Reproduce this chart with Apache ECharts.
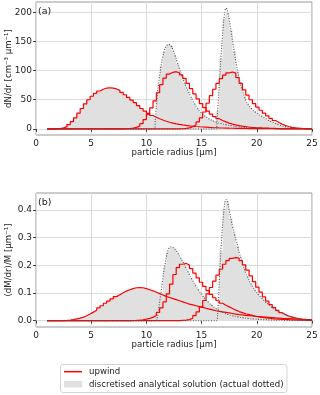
<!DOCTYPE html>
<html>
<head>
<meta charset="utf-8">
<script src="https://cdn.jsdelivr.net/npm/echarts@6/dist/echarts.min.js"></script>
<style>
  html, body { margin: 0; padding: 0; background: #fff; }
  #chart { width: 320px; height: 395px; }
</style>
</head>
<body>
<div id="chart"></div>
<script>
// bins: 0.3 um wide, from r = 1 to r = 25
const firstEdge = 1.0
const lastEdge = 25.0
const binWidth = 0.3

const xTicks = [0, 5, 10, 15, 20, 25]
const aTicks = [0, 50, 100, 150, 200]
const bTicks = [0, 0.1, 0.2, 0.3, 0.4]

// ---- panel (a): dN/dr ----
// initial distribution (upwind == discretised at this time)
const a1Start = 1.0
const a1 = [
  0, 0.05, 0.2, 0.7, 1.8, 4, 7.5, 12.5, 19, 27,
  35, 43, 50, 56, 61, 65, 68, 70, 70.5, 70,
  68.5, 66, 62.5, 58.5, 54, 49.5, 45, 40, 35, 30.5,
  26.5, 23, 20, 17.5, 15.2, 13.2, 11.5, 10, 8.8, 7.7,
  6.8, 6.0, 5.3, 4.7, 4.15, 3.7, 3.3, 2.95, 2.6, 2.3,
  2.05, 1.8, 1.6, 1.42, 1.27, 1.13, 1.0, 0.9, 0.8, 0.71,
  0.63, 0.56, 0.5, 0.44, 0.39, 0.35, 0.31, 0.28, 0.25, 0.22,
  0.2, 0.18, 0.16, 0.14, 0.13, 0.12, 0.1, 0.09, 0.08, 0.07
]
const a2UpStart = 7.9
const a2Up = [
  0.3, 0.7, 1.4, 2.6, 4.8, 9, 16, 25, 36, 48,
  62, 76, 87, 94, 97, 98, 96, 92.5, 86.5, 78,
  69, 60, 51.5, 43.5, 36.5, 30.5, 25.5, 21, 17.5, 14.5,
  12, 10, 8.3, 6.9, 5.7, 4.8, 4.0, 3.3, 2.8, 2.35,
  2.0, 1.7, 1.45, 1.22, 1.05, 0.9, 0.77, 0.66, 0.57, 0.49,
  0.42, 0.37, 0.32, 0.28, 0.24, 0.21, 0.18
]
const a3UpStart = 13.0
const a3Up = [
  0.3, 0.8, 1.8, 3.8, 7, 12, 19, 29, 44, 57,
  68, 78, 86, 92, 96, 97.5, 95.5, 88, 78, 67,
  58, 50, 43.5, 37.5, 32, 27, 22.5, 18.2, 14.4, 11,
  8.2, 5.9, 4.1, 2.8, 1.9, 1.3, 0.85, 0.55, 0.37, 0.25
]
const a2DiscStart = 10.6
const a2Disc = [
  9, 66, 108, 134, 144, 142, 128, 111, 94, 80,
  66, 54, 43, 35, 28, 22.5, 18.5, 15, 12.8, 10.8,
  9.2, 7.9, 6.7, 5.7, 4.8, 4.1, 3.5, 3.0, 2.6, 2.2,
  1.9, 1.6, 1.4, 1.2, 1.0, 0.9, 0.8, 0.7, 0.6, 0.52,
  0.46, 0.4, 0.35, 0.3, 0.26, 0.23, 0.2, 0.17
]
const a3DiscStart = 16.3
const a3Disc = [
  31, 121, 190, 200, 170, 133, 100, 75, 57, 44,
  36, 30.5, 26.5, 22.5, 19, 15.5, 12.7, 10.2, 8, 6.1,
  4.6, 3.5, 2.5, 1.8, 1.3, 0.95, 0.7, 0.5, 0.4
]
// actual (continuous) analytical solutions
const a2ExactR = [1, 10.75, 10.8, 10.9, 11.0, 11.1, 11.25, 11.4, 11.55, 11.7, 11.85, 12.0, 12.15, 12.3, 12.5, 12.7, 12.9, 13.1, 13.3, 13.5, 13.7, 13.9, 14.1, 14.3, 14.5, 14.75, 15.0, 15.25, 15.5, 15.75, 16.0, 16.5, 17, 17.5, 18, 18.5, 19, 19.5, 20, 21, 22, 23, 24, 25]
const a2Exact = [0, 0, 14, 38, 60, 78, 98, 116, 129, 138, 143, 145, 144, 140, 131, 120, 108, 97, 87, 77, 68, 60, 52, 45, 39, 32, 27, 22.5, 19, 16.3, 14, 10.5, 8, 6, 4.5, 3.4, 2.6, 2.0, 1.5, 0.9, 0.55, 0.35, 0.22, 0.14]
const a3ExactR = [1, 16.35, 16.4, 16.55, 16.7, 16.85, 17.0, 17.1, 17.2, 17.3, 17.45, 17.6, 17.75, 17.9, 18.05, 18.2, 18.35, 18.5, 18.65, 18.8, 18.95, 19.1, 19.25, 19.4, 19.7, 20.0, 20.3, 20.6, 20.9, 21.2, 21.5, 21.8, 22.1, 22.4, 22.8, 23.2, 23.6, 24, 24.5, 25]
const a3Exact = [0, 0, 14, 60, 107, 150, 185, 200, 207, 205, 193, 176, 158, 139, 121, 105, 91, 79, 68, 59, 51, 45, 40.5, 37, 31, 27, 23.5, 20, 16.5, 13.5, 11, 8.5, 6.5, 4.8, 3.2, 2.1, 1.4, 0.9, 0.55, 0.35]

// ---- panel (b): (dM/dr)/M ----
const b1Start = 1.0
const b1 = [
  0, 0, 0, 0.0001, 0.0004, 0.001, 0.0022, 0.004, 0.0068, 0.0095,
  0.013, 0.018, 0.024, 0.031, 0.038, 0.046, 0.054, 0.063, 0.071, 0.079,
  0.087, 0.094, 0.101, 0.107, 0.112, 0.116, 0.119, 0.12, 0.119, 0.116,
  0.112, 0.108, 0.103, 0.098, 0.093, 0.088, 0.084, 0.08, 0.076, 0.072,
  0.068, 0.064, 0.06, 0.057, 0.054, 0.051, 0.048, 0.045, 0.042, 0.039,
  0.036, 0.034, 0.032, 0.03, 0.028, 0.026, 0.024, 0.022, 0.021, 0.019,
  0.018, 0.017, 0.016, 0.015, 0.014, 0.013, 0.012, 0.011, 0.01, 0.0093,
  0.0086, 0.008, 0.0074, 0.0068, 0.0062, 0.0057, 0.0052, 0.0047, 0.0043, 0.004
]
const b2UpStart = 7.9
const b2Up = [
  0.0002, 0.0004, 0.0007, 0.0012, 0.002, 0.0033, 0.0055, 0.0085, 0.012, 0.019,
  0.03, 0.046, 0.068, 0.097, 0.132, 0.167, 0.192, 0.204, 0.207, 0.201,
  0.188, 0.172, 0.155, 0.139, 0.124, 0.109, 0.095, 0.083, 0.072, 0.063,
  0.056, 0.05, 0.044, 0.038, 0.033, 0.029, 0.025, 0.022, 0.019, 0.016,
  0.014, 0.012, 0.0105, 0.009, 0.0078, 0.0067, 0.0058, 0.005, 0.0043, 0.0037,
  0.0032, 0.0027, 0.0023, 0.002, 0.0017, 0.0015, 0.0013
]
const b3UpStart = 13.0
const b3Up = [
  0.001, 0.002, 0.004, 0.009, 0.018, 0.032, 0.05, 0.073, 0.097, 0.12,
  0.143, 0.165, 0.186, 0.204, 0.217, 0.225, 0.228, 0.226, 0.217, 0.202,
  0.183, 0.162, 0.141, 0.121, 0.103, 0.086, 0.071, 0.058, 0.047, 0.037,
  0.029, 0.022, 0.017, 0.013, 0.0095, 0.007, 0.005, 0.0036, 0.0026, 0.0019
]
const b2DiscStart = 10.6
const b2Disc = [
  0, 0.025, 0.1, 0.195, 0.25, 0.266, 0.261, 0.242, 0.225, 0.2,
  0.178, 0.155, 0.134, 0.115, 0.098, 0.084, 0.071, 0.06, 0.05, 0.041,
  0.034, 0.028, 0.023, 0.0195, 0.0165, 0.014, 0.012, 0.0102, 0.0087, 0.0074,
  0.0063, 0.0054, 0.0046, 0.0039, 0.0033, 0.0028, 0.0024, 0.002, 0.0017, 0.0015,
  0.0013, 0.0011, 0.0009, 0.0008, 0.0007, 0.0006, 0.0005, 0.0004
]
const b3DiscStart = 16.3
const b3Disc = [
  0.04, 0.25, 0.405, 0.43, 0.37, 0.318, 0.27, 0.228, 0.192, 0.16,
  0.137, 0.119, 0.103, 0.09, 0.077, 0.066, 0.055, 0.046, 0.038, 0.031,
  0.025, 0.02, 0.016, 0.012, 0.0095, 0.0072, 0.0053, 0.0039, 0.0029
]
const b2ExactR = [1, 10.85, 10.95, 11.1, 11.3, 11.55, 11.8, 12.0, 12.2, 12.4, 12.6, 12.8, 13.0, 13.2, 13.4, 13.7, 14.0, 14.3, 14.6, 14.9, 15.2, 15.5, 15.8, 16.1, 16.4, 16.8, 17.2, 17.6, 18, 18.5, 19, 19.5, 20, 21, 22, 23, 24, 25]
const b2Exact = [0, 0, 0.004, 0.039, 0.095, 0.17, 0.23, 0.258, 0.267, 0.265, 0.257, 0.247, 0.234, 0.219, 0.205, 0.182, 0.158, 0.137, 0.117, 0.1, 0.085, 0.071, 0.059, 0.049, 0.041, 0.032, 0.025, 0.02, 0.016, 0.012, 0.009, 0.0068, 0.0052, 0.003, 0.0017, 0.001, 0.0006, 0.0003]
const b3ExactR = [1, 16.35, 16.45, 16.55, 16.7, 16.85, 17.0, 17.1, 17.2, 17.3, 17.45, 17.6, 17.75, 17.9, 18.05, 18.2, 18.35, 18.5, 18.65, 18.8, 18.95, 19.1, 19.3, 19.5, 19.7, 20.0, 20.3, 20.6, 20.9, 21.2, 21.5, 21.8, 22.1, 22.4, 22.7, 23.0, 23.4, 23.8, 24.2, 24.6, 25]
const b3Exact = [0, 0, 0.02, 0.1, 0.22, 0.32, 0.39, 0.425, 0.438, 0.435, 0.41, 0.38, 0.35, 0.325, 0.3, 0.28, 0.255, 0.235, 0.215, 0.195, 0.178, 0.163, 0.145, 0.13, 0.117, 0.1, 0.088, 0.075, 0.063, 0.053, 0.044, 0.037, 0.03, 0.024, 0.019, 0.015, 0.011, 0.008, 0.0055, 0.0038, 0.0026]

const FONT = 'DejaVu Sans'
const RED = '#ff0000'
const FILL = '#e0e0e0'

// step histogram points: [left edge, value], closed at r = 25
function stepData(start, values) {
  const pts = [[firstEdge, 0]]
  values.forEach((v, i) => pts.push([+(start + i * binWidth).toFixed(2), v]))
  pts.push([lastEdge, values[values.length - 1]])
  return pts
}

function curveData(rs, vs) {
  return rs.map((r, i) => [r, vs[i]])
}

function fillSeries(idx, data) {
  return {
    type: 'line', xAxisIndex: idx, yAxisIndex: idx, step: 'end', data,
    symbol: 'none', lineStyle: { opacity: 0 },
    areaStyle: { color: FILL, opacity: 1 }, z: 1, silent: true
  }
}

function upwindSeries(idx, data) {
  return {
    type: 'line', xAxisIndex: idx, yAxisIndex: idx, step: 'end', data,
    symbol: 'none', lineStyle: { color: RED, width: 1.2 }, z: 3, silent: true
  }
}

function exactSeries(idx, data) {
  return {
    type: 'line', xAxisIndex: idx, yAxisIndex: idx, data, smooth: 0.2,
    symbol: 'none', lineStyle: { color: '#555', width: 1.1, type: [1, 1.6] },
    z: 4, silent: true
  }
}

function xAxis(idx) {
  return {
    type: 'value', gridIndex: idx, min: 0, max: 25, interval: 5,
    name: 'particle radius [μm]', nameLocation: 'middle', nameGap: 13, nameMoveOverlap: false,
    nameTextStyle: { fontFamily: FONT, fontSize: 8.6, color: '#222' },
    axisLine: { show: false },
    axisTick: { show: true, length: 3, lineStyle: { color: '#444' } },
    axisLabel: { customValues: xTicks, fontFamily: FONT, fontSize: 9, color: '#222', margin: 4 },
    splitLine: { show: true, lineStyle: { color: '#dcdcdc', width: 1 } }
  }
}

function yAxis(idx, name, min, max, ticks, fmt) {
  return {
    type: 'value', gridIndex: idx, min, max,
    name, nameLocation: 'middle', nameGap: 23, nameMoveOverlap: false,
    nameTextStyle: { fontFamily: FONT, fontSize: 8.6, color: '#222' },
    axisLine: { show: false },
    axisTick: { show: true, length: 3, customValues: ticks, lineStyle: { color: '#444' } },
    axisLabel: { customValues: ticks, formatter: fmt, fontFamily: FONT, fontSize: 9, color: '#222', margin: 4 },
    splitLine: { show: true, lineStyle: { color: '#dcdcdc', width: 1 } }
  }
}

const chart = echarts.init(document.getElementById('chart'), null, { renderer: 'canvas' })

chart.setOption({
  animation: false,
  backgroundColor: '#fff',
  grid: [
    { left: 36, top: 2, width: 276, height: 133, containLabel: false, outerBoundsMode: 'none',
      show: true, borderColor: '#999', borderWidth: 1 },
    { left: 36, top: 193, width: 276, height: 134, containLabel: false, outerBoundsMode: 'none',
      show: true, borderColor: '#999', borderWidth: 1 }
  ],
  xAxis: [xAxis(0), xAxis(1)],
  yAxis: [
    yAxis(0, 'dN/dr [cm⁻³ μm⁻¹]', -10.4, 217.4, aTicks, v => String(v)),
    yAxis(1, '(dM/dr)/M [μm⁻¹]', -0.0228, 0.4615, bTicks, v => v.toFixed(1))
  ],
  series: [
    fillSeries(0, stepData(a1Start, a1)),
    fillSeries(0, stepData(a2DiscStart, a2Disc)),
    fillSeries(0, stepData(a3DiscStart, a3Disc)),
    exactSeries(0, curveData(a2ExactR, a2Exact)),
    exactSeries(0, curveData(a3ExactR, a3Exact)),
    upwindSeries(0, stepData(a1Start, a1)),
    upwindSeries(0, stepData(a2UpStart, a2Up)),
    upwindSeries(0, stepData(a3UpStart, a3Up)),

    fillSeries(1, stepData(b1Start, b1)),
    fillSeries(1, stepData(b2DiscStart, b2Disc)),
    fillSeries(1, stepData(b3DiscStart, b3Disc)),
    exactSeries(1, curveData(b2ExactR, b2Exact)),
    exactSeries(1, curveData(b3ExactR, b3Exact)),
    upwindSeries(1, stepData(b1Start, b1)),
    upwindSeries(1, stepData(b2UpStart, b2Up)),
    upwindSeries(1, stepData(b3UpStart, b3Up))
  ],
  graphic: [
    { type: 'text', left: 38, top: 6.5, style: { text: '(a)', fontFamily: FONT, fontSize: 9.5, fill: '#222' }, z: 10 },
    { type: 'text', left: 38, top: 197.5, style: { text: '(b)', fontFamily: FONT, fontSize: 9.5, fill: '#222' }, z: 10 },
    // legend
    { type: 'rect', shape: { x: 60.5, y: 364.5, width: 226.5, height: 28, r: 2.5 }, style: { fill: '#fff', stroke: '#d4d4d4', lineWidth: 1 } },
    { type: 'line', shape: { x1: 64, y1: 371.7, x2: 82, y2: 371.7 }, style: { stroke: RED, lineWidth: 1.5 } },
    { type: 'rect', shape: { x: 64, y: 381, width: 18, height: 6.5 }, style: { fill: FILL } },
    { type: 'text', x: 89, y: 371.7, style: { text: 'upwind', fontFamily: FONT, fontSize: 8.6, fill: '#222', verticalAlign: 'middle' } },
    { type: 'text', x: 89, y: 384.3, style: { text: 'discretised analytical solution (actual dotted)', fontFamily: FONT, fontSize: 8.6, fill: '#222', verticalAlign: 'middle' } }
  ]
})
</script>
</body>
</html>
